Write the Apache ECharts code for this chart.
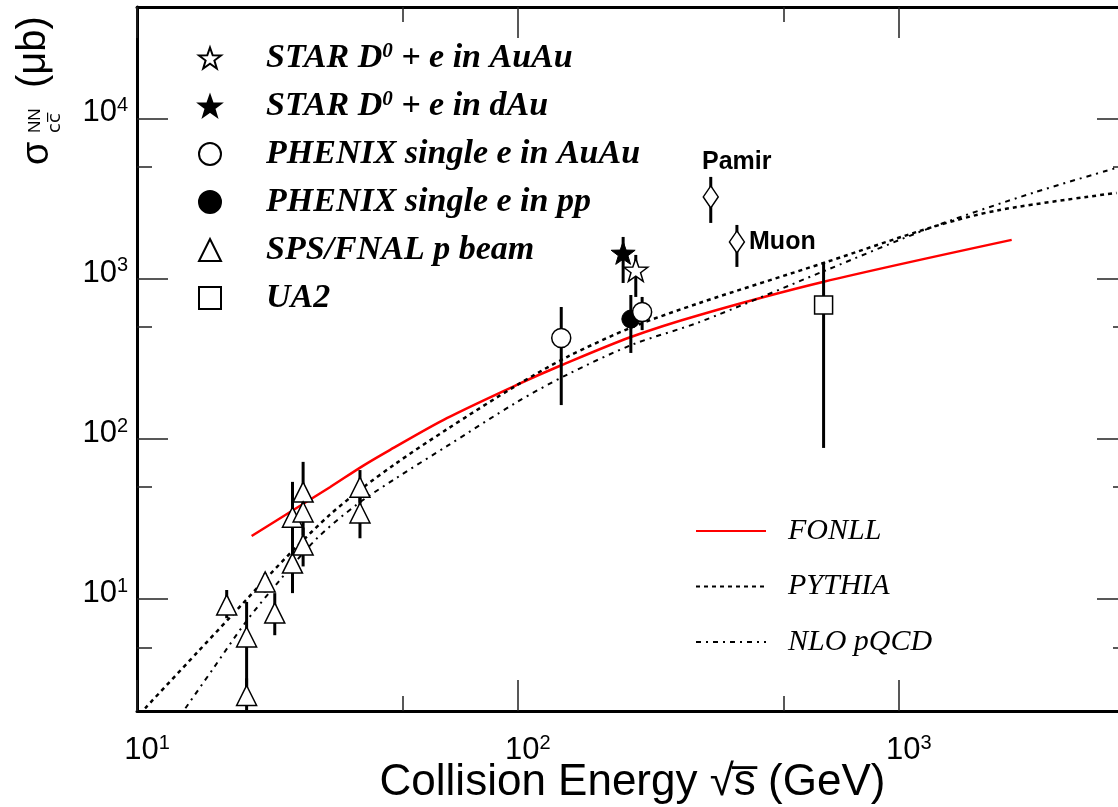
<!DOCTYPE html>
<html>
<head>
<meta charset="utf-8">
<script src="https://cdn.jsdelivr.net/npm/echarts@6/dist/echarts.min.js"></script>
<style>
html,body{margin:0;padding:0;background:#fff;}
#chart{width:1118px;height:807px;}
</style>
</head>
<body>
<div id="chart"></div>
<script>
// ---- data: [sqrt(s) GeV, sigma ub, err low, err high] ----
const starAuAu = [[204, 1138, 772, 1413]];
const starDAu = [[189, 1454, 944, 1830]];
const phenixAuAu = [[130, 428, 163, 668], [212, 622, 479, 772]];
const phenixPP = [[198, 562, 345, 794]];
const spsFnal = [
  [17.2, 9.2, 7.6, 11.4],
  [19.4, 5.8, 2.6, 9.6],
  [19.4, 2.5, 1.8, 3.2],
  [21.7, 12.8, 11.0, 14.5],
  [23.0, 8.2, 5.95, 10.9],
  [25.6, 16.8, 10.9, 24],
  [25.6, 32.5, 20, 54],
  [27.3, 46.6, 36, 72],
  [27.3, 35, 25, 46],
  [27.3, 21.8, 16, 28],
  [38.5, 50, 40, 64],
  [38.5, 34.5, 24, 44]
];
const ua2 = [[635, 688, 88, 1276]];
const pamir = [[321, 3254, 2239, 4340]];
const muon = [[376, 1703, 1189, 2175]];

// ---- theory curves ----
const fonll = [[20.0,24.8],[26.3,37.2],[32.1,50],[39.2,68],[46.1,85.3],[65.1,135],[99.4,218],[130.5,290],[198,434],[300,596],[632,957],[1980,1754]];
const pythia = [[10.5,2.08],[14.4,4.65],[17.5,7.64],[21.4,12.8],[25.7,20.2],[32.1,33.7],[39.2,49.7],[47.6,69.8],[65.1,115],[99.4,217],[134.5,325],[200,501],[300,708],[647,1277],[1228,2113],[1841,2698],[3733,3447]];
const nlo = [[13.4,2.08],[15.8,3.64],[19.4,7.31],[23.7,13.1],[29.7,24.0],[37.8,39.0],[48.1,57.3],[65.1,90.2],[99.4,170],[134.5,252],[200,389],[300,538],[647,1138],[1228,2113],[2248,3447],[3733,4943]];

// ---- axis ticks ----
const xMajorTicks = [10, 100, 1000];
const xMinorTicks = [50, 500];
const yMajorTicks = [10, 100, 1000, 10000];
const yMinorTicks = [5, 50, 500, 5000];
const xRange = [10, 4000];
const yRange = [2, 50000];

const legendNames = ['STAR D0 + e in AuAu', 'STAR D0 + e in dAu', 'PHENIX single e in AuAu', 'PHENIX single e in pp', 'SPS/FNAL p beam', 'UA2'];
const curveNames = ['FONLL', 'PYTHIA', 'NLO pQCD'];

const STAR = 'path://M50,0L61.76,33.82L97.55,34.55L69.02,56.18L79.39,90.45L50,70L20.61,90.45L30.98,56.18L2.45,34.55L38.24,33.82Z';

const chart = echarts.init(document.getElementById('chart'));

const pow10 = v => '{b|10}{s|' + Math.round(Math.log10(v)) + '}';
const tickRich = {
  b: {fontSize: 31, fontFamily: 'Liberation Sans', color: '#000', lineHeight: 34},
  s: {fontSize: 20, fontFamily: 'Liberation Sans', color: '#000', verticalAlign: 'top', lineHeight: 20}
};

function xAx(pos, ticks, len, showLine, showLabel) {
  return {
    type: 'log', logBase: 10, min: xRange[0], max: xRange[1], position: pos,
    gridIndex: 0,
    axisLine: {show: showLine, onZero: false, lineStyle: {color: '#000', width: 3}},
    axisTick: {show: true, inside: true, length: len, customValues: ticks, lineStyle: {color: '#222', width: 1.5}},
    axisLabel: showLabel ? {show: true, customValues: ticks, formatter: pow10, rich: tickRich, margin: 22, padding: [0, 0, 0, 20]} : {show: false},
    minorTick: {show: false},
    splitLine: {show: false}
  };
}
function yAx(pos, ticks, len, showLine, showLabel) {
  return {
    type: 'log', logBase: 10, min: yRange[0], max: yRange[1], position: pos,
    gridIndex: 0,
    axisLine: {show: showLine, onZero: false, lineStyle: {color: '#000', width: 3}},
    axisTick: {show: true, inside: true, length: len, customValues: ticks, lineStyle: {color: '#222', width: 1.5}},
    axisLabel: showLabel ? {show: true, customValues: ticks, formatter: pow10, rich: tickRich, margin: 9, padding: [0, 0, 12, 0]} : {show: false},
    minorTick: {show: false},
    splitLine: {show: false}
  };
}

const xAxes = [
  xAx('bottom', xMajorTicks, 31, true, true),
  xAx('bottom', xMinorTicks, 15, false, false),
  xAx('top', xMajorTicks, 31, true, false),
  xAx('top', xMinorTicks, 15, false, false)
];
Object.assign(xAxes[0], {
  name: 'Collision Energy √s\u0305 (GeV)',
  nameLocation: 'middle',
  nameGap: 50,
  nameMoveOverlap: false,
  nameTextStyle: {fontSize: 44, fontFamily: 'Liberation Sans, DejaVu Sans', color: '#000'}
});
const yAxes = [
  yAx('left', yMajorTicks, 31, true, true),
  yAx('left', yMinorTicks, 15, false, false),
  yAx('right', yMajorTicks, 31, true, false),
  yAx('right', yMinorTicks, 15, false, false)
];

const openStyle = {color: '#fff', borderColor: '#000', borderWidth: 1.5, opacity: 1};
const fillStyle = {color: '#000', borderColor: '#000', borderWidth: 1, opacity: 1};

function scatter(name, data, symbol, size, style, extra) {
  return Object.assign({
    name: name, type: 'scatter', xAxisIndex: 0, yAxisIndex: 0,
    data: data.map(d => [d[0], d[1]]),
    symbol: symbol, symbolSize: size, symbolKeepAspect: true,
    itemStyle: style, z: 5, clip: true
  }, extra || {});
}

const allPoints = [].concat(starAuAu, starDAu, phenixAuAu, phenixPP, spsFnal, ua2, pamir, muon);

const curveLine = (name, data, color, width, type) => ({
  name: name, type: 'line', data: data, showSymbol: false, symbol: 'none', smooth: 0.3,
  xAxisIndex: 0, yAxisIndex: 0, clip: true, z: 3,
  lineStyle: {color: color, width: width, type: type},
  itemStyle: {color: color}
});

const labelStyle = {fontSize: 25, fontWeight: 'bold', fontFamily: 'Liberation Sans', color: '#000', opacity: 1};

const series = [
  curveLine('FONLL', fonll, '#ff0000', 2.5, 'solid'),
  curveLine('PYTHIA', pythia, '#000', 2.5, [4, 4]),
  curveLine('NLO pQCD', nlo, '#000', 2, [5, 5, 2, 5]),
  {
    name: 'errors', type: 'custom', xAxisIndex: 0, yAxisIndex: 0, clip: true, z: 4,
    data: allPoints,
    renderItem: function (params, api) {
      const x = api.value(0), lo = api.value(2), hi = api.value(3);
      const p1 = api.coord([x, lo]);
      const p2 = api.coord([x, hi]);
      return {type: 'line', shape: {x1: p1[0], y1: p1[1], x2: p2[0], y2: p2[1]}, style: {stroke: '#000', lineWidth: 3}};
    },
    encode: {x: 0, y: 1}
  },
  scatter(legendNames[1], starDAu, STAR, 24, fillStyle),
  scatter(legendNames[0], starAuAu, STAR, 24, openStyle),
  scatter(legendNames[3], phenixPP, 'circle', 18, fillStyle),
  scatter(legendNames[2], phenixAuAu, 'circle', 19, openStyle),
  scatter(legendNames[4], spsFnal, 'triangle', 20, openStyle),
  scatter(legendNames[5], ua2, 'rect', 18, openStyle),
  scatter('Pamir', pamir, 'diamond', [15, 22], openStyle, {
    label: Object.assign({show: true, formatter: 'Pamir', position: 'top', offset: [26, -5]}, labelStyle)
  }),
  scatter('Muon', muon, 'diamond', [15, 22], openStyle, {
    label: Object.assign({show: true, formatter: 'Muon', position: 'right', distance: 4}, labelStyle)
  })
];

const legRich = {
  g: {width: 40},
  t: {fontFamily: 'Liberation Serif', fontWeight: 'bold', fontStyle: 'italic', fontSize: 34, color: '#000', lineHeight: 34},
  s: {fontFamily: 'Liberation Serif', fontWeight: 'bold', fontStyle: 'italic', fontSize: 21, color: '#000', verticalAlign: 'top', lineHeight: 20}
};

const option = {
  animation: false,
  backgroundColor: '#fff',
  grid: {left: 137, top: 7, width: 991, height: 704, containLabel: false, outerBoundsMode: 'none'},
  xAxis: xAxes,
  yAxis: yAxes,
  legend: [
    {
      data: legendNames,
      orient: 'vertical', left: 198, top: 41, padding: 0,
      itemWidth: 22, itemHeight: 22, itemGap: 14,
      selectedMode: false,
      formatter: function (name) {
        const m = name.match(/^(.*D)0(.*)$/);
        if (m) return '{g|}{t|' + m[1] + '}{s|0}{t|' + m[2] + '}';
        return '{g|}{t|' + name + '}';
      },
      textStyle: {rich: legRich, color: '#000'}
    },
    {
      data: curveNames,
      orient: 'vertical', left: 695, top: 516, padding: 0,
      itemWidth: 70, itemHeight: 14, itemGap: 25.5,
      selectedMode: false,
      itemStyle: {opacity: 0},
      formatter: name => '{g|}{t|' + name + '}',
      textStyle: {
        color: '#000',
        rich: {
          g: {width: 17},
          t: {fontFamily: 'Liberation Serif', fontStyle: 'italic', fontSize: 30, color: '#000', lineHeight: 30}
        }
      }
    }
  ],
  graphic: [
    {
      type: 'group', x: 35, y: 165, rotation: Math.PI / 2,
      children: [
        {type: 'text', x: 0, y: 3, style: {text: 'σ', font: '38px "Liberation Sans"', fill: '#000', align: 'left', verticalAlign: 'middle'}},
        {type: 'text', x: 32, y: 0, style: {text: 'NN', font: '17px "Liberation Sans"', fill: '#000', align: 'left', verticalAlign: 'middle'}},
        {type: 'text', x: 32, y: 20, style: {text: 'cc\u0305', font: '18px "DejaVu Sans"', fill: '#000', align: 'left', verticalAlign: 'middle'}},
        {type: 'text', x: 77, y: -1, style: {text: '(μb)', font: '40px "Liberation Sans"', fill: '#000', align: 'left', verticalAlign: 'middle'}}
      ]
    }
  ],
  series: series
};
chart.setOption(option);
</script>
</body>
</html>
